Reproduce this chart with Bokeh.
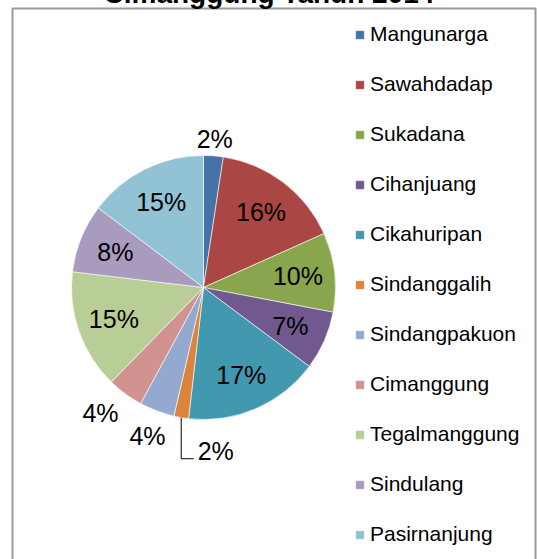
import math
from bokeh.plotting import figure
from bokeh.models import Range1d, Legend, LegendItem, ColumnDataSource, Title
from bokeh.core.properties import value
from bokeh.embed import file_html
from bokeh.resources import INLINE

# ---- data ----
desa = ["Mangunarga", "Sawahdadap", "Sukadana", "Cihanjuang", "Cikahuripan",
        "Sindanggalih", "Sindangpakuon", "Cimanggung", "Tegalmanggung",
        "Sindulang", "Pasirnanjung"]
persen = [2.4, 15.9, 9.7, 7.2, 16.6, 1.8, 4.3, 4.4, 14.6, 8.4, 14.7]
warna = ["#4572A7", "#AA4643", "#89A54E", "#71588F", "#4198AF", "#DB843D",
         "#93A9CF", "#D19392", "#B9CD96", "#A99BBD", "#92C3D5"]
judul = "Cimanggung Tahun 2014"

# ---- layout parameters ----
FONT = "Liberation Sans"
R = 132
TITLE_H = 33
FRAME_H = 555
label_pos = {0: (1.13, 0), 5: (1.24, -14), 6: (1.20, 0), 7: (1.23, 3)}
inside_r = 0.72

total = sum(persen)
starts, ends, mids = [], [], []
acc = 0.0
for v in persen:
    a0 = acc / total * 2 * math.pi
    acc += v
    a1 = acc / total * 2 * math.pi
    starts.append(math.pi / 2 - a0)
    ends.append(math.pi / 2 - a1)
    mids.append((a0 + a1) / 2)

src = ColumnDataSource(dict(start=starts, end=ends, color=warna, name=desa))

p = figure(width=530, height=TITLE_H + FRAME_H, output_backend="svg",
           toolbar_location=None, x_range=Range1d(-191, 332),
           y_range=Range1d(-(FRAME_H - 279), 279),
           min_border_left=4, min_border_right=3, min_border_top=0,
           min_border_bottom=0, margin=(8 - TITLE_H, 0, 0, 8))
p.axis.visible = False
p.grid.visible = False
p.outline_line_color = "#9a9a9a"
p.outline_line_width = 2
p.background_fill_color = "white"
p.border_fill_color = "white"
p.title = Title(text=judul, align="left", text_font=FONT,
                text_font_size="28px", text_font_style="bold",
                text_color="black", standoff=0, offset=91)

r = p.wedge(x=0, y=0, radius=R, start_angle="start", end_angle="end",
            direction="clock", fill_color="color", line_color="white",
            line_width=0.6, source=src)

lx, ly, lt = [], [], []
for i, v in enumerate(persen):
    fac, shift = label_pos.get(i, (inside_r, 0))
    ang = mids[i] + math.radians(shift)
    lx.append(R * fac * math.sin(ang))
    ly.append(R * fac * math.cos(ang))
    lt.append(f"{int(v / total * 100 + 0.5)}%")

p.text(x=lx, y=ly, text=lt, text_font=value(FONT), text_font_size="25px",
       text_color="black", text_align="center", text_baseline="middle")

# leader line for the small slice with moved label
i = 5
ex = R * math.sin(mids[i])
ey = R * math.cos(mids[i])
p.line(x=[ex, ex, lx[i] - 22], y=[ey, ly[i] - 8, ly[i] - 8],
       line_color="black", line_width=1)

items = [LegendItem(label=n, renderers=[r], index=k) for k, n in enumerate(desa)]
legend = Legend(items=items, location=(342, 17), padding=0, margin=0,
                spacing=26, label_height=22, glyph_height=11, glyph_width=11,
                label_standoff=5, label_text_font=FONT,
                label_text_font_size="21px", label_text_color="black",
                border_line_color=None, background_fill_alpha=0)
p.add_layout(legend)

open("out.html", "w").write(file_html(p, INLINE))
